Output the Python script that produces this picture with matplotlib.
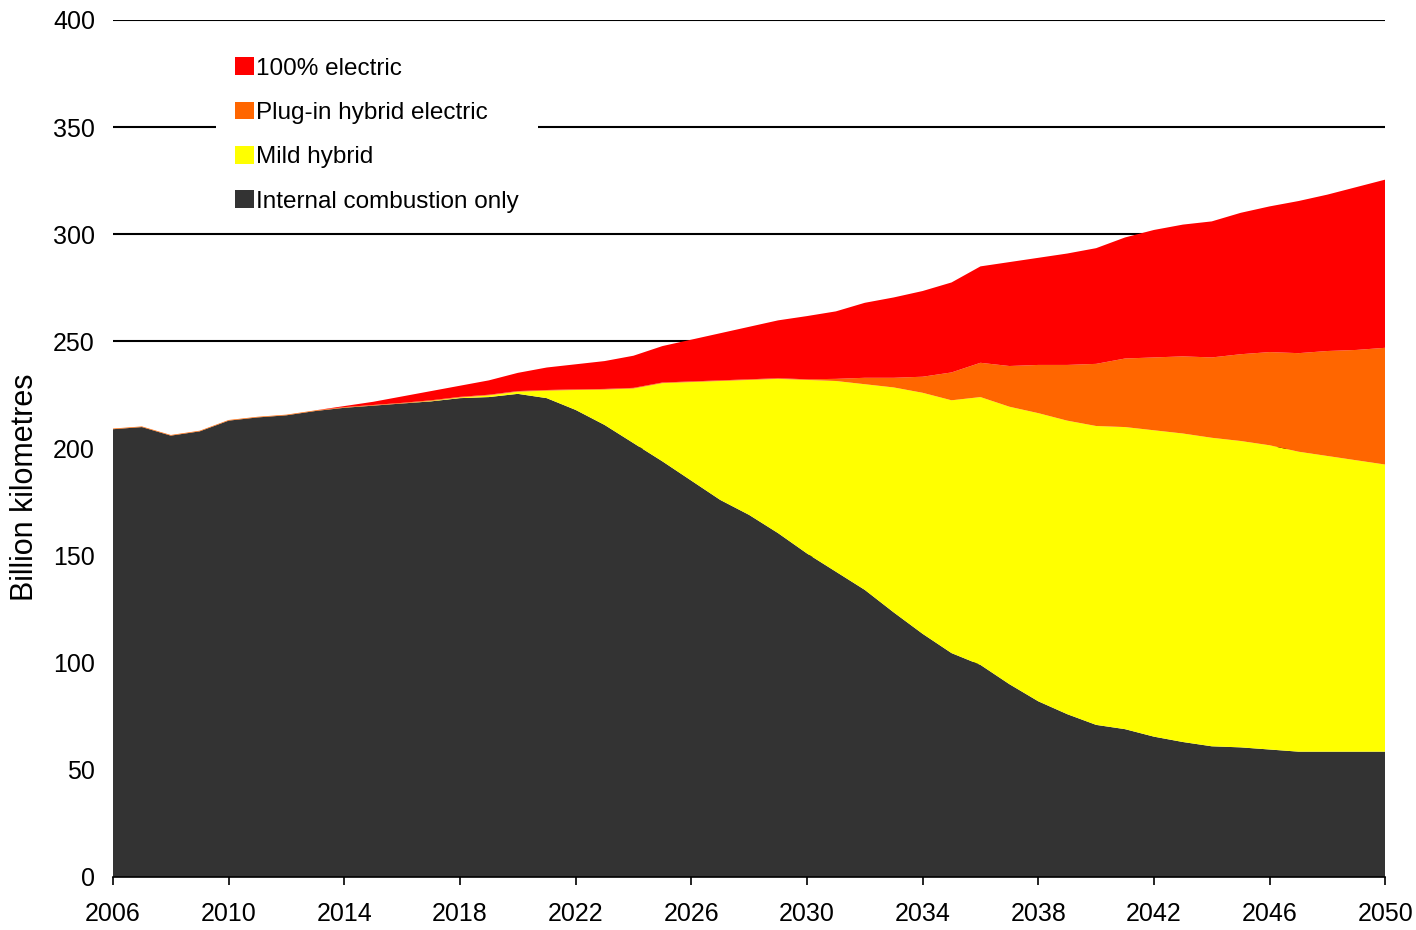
import matplotlib.pyplot as plt
from matplotlib.patches import Patch

plt.rcParams['font.family'] = ['Liberation Sans', 'DejaVu Sans']

# Data (billion km), years 2006-2050
years = list(range(2006, 2051))

ice = [209, 210, 206, 208, 213, 214.5, 215.5, 217.5, 219, 220, 221, 222, 223.5, 224, 225.5,
       223.5, 218, 211, 202.5, 194, 185, 176, 169, 160.5, 151, 142.5, 134, 123.5, 113.5, 104.5,
       99, 90, 82, 76, 71, 69, 65.5, 63, 61, 60.5, 59.5, 58.5, 58.5, 58.5, 58.5]

mild = [0, 0, 0, 0, 0, 0, 0, 0, 0, 0, 0, 0.2, 0.3, 0.8, 1.0,
        3.5, 9.3, 16.5, 25.5, 36.5, 46, 55.5, 63, 72, 81, 89, 96, 105, 112.5, 118,
        125, 129.5, 134.5, 137, 139.5, 141, 143, 144, 144, 143, 142, 140, 138, 136, 134]

phev = [0.3] * 25 + [1.0, 3, 4.5, 7.5, 13, 16, 19, 22.5, 26, 29,
                     32, 34, 36, 37.5, 40.5, 43.5, 46, 49, 51.5, 54.5]

ev = [0, 0, 0, 0, 0, 0, 0, 0, 0.5, 1.5, 3, 4.3, 5.2, 6.7, 8.5,
      10.5, 11.7, 13, 15, 17, 19.5, 22, 24.5, 27, 29.5, 31.5, 35, 37.5, 40, 42,
      45, 48.5, 50, 52, 54, 56.5, 59.5, 61.5, 63.5, 66, 68, 71, 73, 76, 78.5]

labels = ['Internal combustion only', 'Mild hybrid', 'Plug-in hybrid electric', '100% electric']
colors = ['#333333', '#FFFF00', '#FF6600', '#FF0000']

fig = plt.figure(figsize=(14.16, 9.3), dpi=100)
ax = fig.add_axes([0.0798, 0.057, 0.8985, 0.9215])

ax.stackplot(years, ice, mild, phev, ev, colors=colors, linewidth=0, zorder=2)

ax.set_xlim(2006, 2050)
ax.set_ylim(0, 400)
ax.set_xticks(range(2006, 2051, 4))
ax.set_yticks(range(0, 401, 50))

ax.yaxis.grid(True, color='black', linewidth=1.5, zorder=1)
ax.set_axisbelow(True)

for s in ['top', 'right', 'left']:
    ax.spines[s].set_visible(False)
ax.spines['bottom'].set_color('black')
ax.spines['bottom'].set_linewidth(1.2)
ax.spines['bottom'].set_zorder(3)

ax.tick_params(axis='y', length=0, pad=13, labelsize=18)
ax.tick_params(axis='x', length=6, width=1.2, pad=12, labelsize=18, direction='out')
ax.set_ylabel('Billion kilometres', fontsize=22)
ax.yaxis.set_label_coords(-0.0574, 0.455)

handles = [Patch(facecolor=c, edgecolor='none') for c in colors[::-1]]
leg = ax.legend(handles, labels[::-1], loc='upper left', bbox_to_anchor=(0.081, 0.979),
                borderaxespad=0, fontsize=17.5, frameon=True, facecolor='white',
                edgecolor='none', framealpha=1, fancybox=False, handlelength=0.75,
                handleheight=0.75, handletextpad=0.1, labelspacing=0.9, borderpad=0.8)

plt.savefig('out.png', dpi=100)
